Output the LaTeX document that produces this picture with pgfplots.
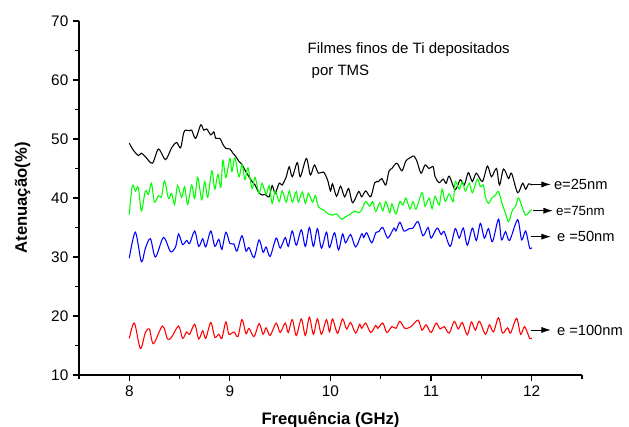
\documentclass[border=0pt]{standalone}
\usepackage{fontspec}
\setmainfont{Liberation Sans}
\usepackage{pgfplots}
\pgfplotsset{compat=1.18}
\usetikzlibrary{arrows.meta}

\begin{document}
\begin{tikzpicture}

\begin{axis}[
    at={(0,0)}, anchor=south west,
    scale only axis, width=377.25pt, height=265.5pt,
    xmin=7.5, xmax=12.5, ymin=10, ymax=70,
    axis x line=bottom, axis y line=left,
    axis line style={-, line width=0.9pt},
    xtick={8,9,10,11,12}, ytick={10,20,...,70},
    minor xtick={7.5,8.5,9.5,10.5,11.5,12.5},
    minor ytick={15,25,35,45,55,65},
    tick align=outside,
    major tick length=4.5pt, minor tick length=2.8pt,
    every tick/.style={black, line width=0.9pt},
    tick label style={font=\fontsize{11.5}{13}\selectfont},
    /pgf/number format/assume math mode=true,
    xlabel={Frequência (GHz)}, ylabel={Atenuação(\%)},
    label style={font=\fontsize{12.5}{14}\selectfont\bfseries},
    xlabel style={at={(axis description cs:0.5,-0.128)}, anchor=center},
    ylabel style={at={(axis description cs:-0.112,0.5)}, anchor=center},
    clip=false,
]

% e = 25 nm
\addplot[black, line width=0.8pt, smooth, tension=0.5] coordinates {
(8.00,49.3)(8.04,48.1)(8.09,47.2)(8.12,47.6)(8.16,47.0)(8.23,45.9)(8.29,48.3)(8.36,46.5)
(8.42,48.5)(8.47,49.4)(8.51,48.5)(8.54,51.0)(8.56,51.5)(8.60,51.4)(8.62,51.5)(8.66,50.1)
(8.71,52.4)(8.74,51.5)(8.77,51.7)(8.81,50.7)(8.84,51.2)(8.86,50.1)(8.90,50.1)(8.93,49.1)
(8.96,48.4)(9.00,48.3)(9.03,47.6)(9.06,47.0)(9.09,46.2)(9.12,45.7)(9.15,44.7)(9.19,43.6)
(9.22,42.8)(9.25,42.2)(9.29,40.8)(9.32,40.5)(9.35,40.6)(9.39,40.2)(9.42,42.1)(9.45,40.8)
(9.49,42.5)(9.52,42.2)(9.56,43.6)(9.59,45.3)(9.62,43.6)(9.67,46.0)(9.70,43.6)(9.76,46.7)
(9.80,43.9)(9.84,45.6)(9.88,44.2)(9.93,44.4)(9.97,43.1)(10.00,41.2)(10.02,42.4)(10.06,40.3)
(10.10,42.0)(10.14,40.2)(10.18,41.6)(10.22,39.2)(10.28,41.1)(10.31,40.2)(10.35,41.2)(10.40,40.2)
(10.44,42.6)(10.48,42.8)(10.51,43.3)(10.55,42.2)(10.58,44.5)(10.61,45.0)(10.66,45.9)(10.71,44.6)
(10.75,46.3)(10.80,46.9)(10.83,47.1)(10.86,46.2)(10.90,44.2)(10.94,45.6)(10.98,45.0)(11.02,45.3)
(11.04,43.6)(11.08,42.6)(11.12,43.2)(11.15,42.5)(11.18,43.7)(11.24,41.4)(11.29,43.1)(11.33,42.2)
(11.37,44.3)(11.41,42.8)(11.45,44.2)(11.51,42.8)(11.56,45.4)(11.60,43.6)(11.65,45.0)(11.68,42.2)
(11.72,44.9)(11.77,43.3)(11.80,44.2)(11.86,40.9)(11.91,42.5)(11.94,41.5)(11.97,42.4)(12.00,42.2)
};

% e = 75 nm
\addplot[green, line width=0.8pt, smooth, tension=0.5] coordinates {
(8.00,37.2)(8.03,42.1)(8.06,41.2)(8.09,41.8)(8.12,37.8)(8.16,41.2)(8.19,40.6)(8.22,42.5)
(8.25,39.3)(8.29,40.4)(8.32,40.2)(8.35,42.9)(8.39,39.9)(8.42,40.8)(8.45,38.9)(8.48,42.1)
(8.52,40.1)(8.55,41.9)(8.58,38.9)(8.62,42.2)(8.65,39.9)(8.68,43.5)(8.72,39.7)(8.75,42.8)
(8.78,40.1)(8.82,44.6)(8.85,41.5)(8.88,44.0)(8.91,41.8)(8.93,46.4)(8.96,43.5)(9.00,46.7)
(9.02,44.5)(9.05,46.8)(9.09,43.6)(9.12,45.7)(9.15,43.1)(9.18,45.1)(9.22,41.6)(9.25,43.5)
(9.29,40.8)(9.32,42.5)(9.36,40.6)(9.39,42.1)(9.42,39.1)(9.45,41.2)(9.49,39.4)(9.52,41.2)
(9.56,39.3)(9.59,41.2)(9.62,39.3)(9.66,41.1)(9.68,39.3)(9.72,41.0)(9.75,39.1)(9.78,40.8)
(9.82,39.3)(9.85,40.4)(9.88,38.5)(9.93,38.0)(9.97,37.4)(10.02,37.1)(10.06,37.3)(10.11,36.4)
(10.15,36.8)(10.20,37.3)(10.24,37.8)(10.28,37.5)(10.31,38.0)(10.35,39.4)(10.39,38.6)(10.42,39.4)
(10.45,37.7)(10.49,39.2)(10.52,37.8)(10.55,39.4)(10.59,37.5)(10.61,39.0)(10.65,37.3)(10.69,39.4)
(10.72,38.8)(10.75,40.0)(10.79,38.1)(10.82,39.4)(10.85,38.1)(10.91,40.9)(10.94,38.6)(10.98,40.0)
(11.01,38.2)(11.04,40.3)(11.08,38.8)(11.11,41.5)(11.14,39.4)(11.18,40.7)(11.22,39.4)(11.24,42.8)
(11.28,41.5)(11.31,42.8)(11.34,41.2)(11.38,42.5)(11.41,40.9)(11.46,43.2)(11.49,41.9)(11.52,42.2)
(11.54,40.2)(11.57,39.1)(11.61,40.1)(11.64,40.5)(11.67,41.1)(11.71,38.8)(11.74,37.4)(11.77,36.0)
(11.81,38.0)(11.84,38.6)(11.87,40.0)(11.91,38.2)(11.94,37.1)(11.97,37.5)(12.00,38.1)
};

% e = 50 nm
\addplot[blue, line width=0.8pt, smooth, tension=0.5] coordinates {
(8.00,29.8)(8.06,34.2)(8.12,29.2)(8.16,31.5)(8.21,33.1)(8.26,30.0)(8.34,33.3)(8.41,30.9)
(8.46,31.7)(8.49,33.9)(8.53,32.1)(8.57,32.8)(8.60,32.3)(8.65,34.4)(8.69,31.8)(8.73,33.1)
(8.76,31.7)(8.81,34.4)(8.85,31.8)(8.89,33.0)(8.92,31.3)(8.96,34.2)(9.00,32.3)(9.04,32.2)
(9.07,31.0)(9.12,33.6)(9.16,31.0)(9.19,31.6)(9.24,29.9)(9.29,32.9)(9.33,30.8)(9.36,31.7)
(9.40,30.1)(9.46,33.2)(9.50,31.5)(9.55,33.3)(9.58,31.8)(9.62,34.4)(9.66,32.0)(9.71,34.6)
(9.75,31.8)(9.79,35.0)(9.83,31.8)(9.87,34.8)(9.91,31.5)(9.96,34.2)(9.99,31.6)(10.04,34.1)
(10.08,31.2)(10.12,33.9)(10.15,32.4)(10.20,33.8)(10.25,31.7)(10.31,33.9)(10.33,33.3)(10.36,34.1)
(10.41,32.4)(10.45,34.1)(10.48,34.3)(10.52,35.0)(10.57,33.2)(10.63,34.9)(10.65,34.4)(10.69,35.9)
(10.73,34.4)(10.78,34.8)(10.82,34.9)(10.87,36.0)(10.92,33.6)(10.97,35.0)(11.00,33.2)(11.06,34.9)
(11.10,33.8)(11.13,34.3)(11.19,31.8)(11.24,34.8)(11.28,33.2)(11.32,34.9)(11.36,32.0)(11.41,34.9)
(11.45,32.8)(11.49,35.7)(11.53,33.2)(11.57,34.8)(11.61,32.6)(11.67,36.4)(11.70,32.9)(11.74,34.3)
(11.78,32.8)(11.86,36.3)(11.90,32.9)(11.94,34.4)(11.98,31.5)(12.00,31.6)
};

% e = 100 nm
\addplot[red, line width=0.8pt, smooth, tension=0.5] coordinates {
(8.00,16.2)(8.05,18.8)(8.11,14.5)(8.16,17.2)(8.20,17.8)(8.24,15.3)(8.33,18.3)(8.38,16.1)
(8.42,16.4)(8.49,18.3)(8.53,16.2)(8.57,17.3)(8.60,16.9)(8.65,18.6)(8.69,16.1)(8.73,17.5)
(8.76,16.2)(8.81,18.9)(8.85,16.4)(8.89,16.9)(8.92,16.2)(8.96,19.0)(8.99,16.9)(9.04,17.3)
(9.08,16.5)(9.12,19.4)(9.16,17.0)(9.19,17.9)(9.24,16.5)(9.29,18.7)(9.33,16.9)(9.36,18.0)
(9.40,16.7)(9.46,18.8)(9.50,17.2)(9.55,18.8)(9.58,17.2)(9.62,19.4)(9.66,16.7)(9.71,19.5)
(9.75,16.7)(9.79,19.8)(9.83,16.9)(9.87,19.5)(9.91,16.9)(9.96,19.4)(9.99,17.3)(10.02,19.5)
(10.07,17.1)(10.12,19.5)(10.16,17.8)(10.20,18.9)(10.25,17.1)(10.29,18.6)(10.31,17.9)(10.35,18.8)
(10.40,17.2)(10.45,18.4)(10.47,17.9)(10.52,18.8)(10.56,17.2)(10.61,18.2)(10.65,17.9)(10.69,19.1)
(10.74,17.9)(10.80,18.2)(10.87,19.3)(10.91,17.6)(10.95,18.5)(11.00,17.2)(11.05,18.8)(11.09,17.8)
(11.13,18.2)(11.18,17.1)(11.23,19.1)(11.27,17.8)(11.31,18.9)(11.36,16.8)(11.40,19.0)(11.44,17.6)
(11.48,19.1)(11.54,16.9)(11.58,18.5)(11.62,17.3)(11.67,19.7)(11.71,17.1)(11.76,18.0)(11.79,17.1)
(11.85,19.6)(11.89,16.9)(11.93,18.2)(11.98,16.2)(12.00,16.3)
};

% title text
\node[anchor=base west, inner sep=0, font=\fontsize{11.25}{13}\selectfont]
    at (axis cs:9.771,64.41) {Filmes finos de Ti depositados};
\node[anchor=base west, inner sep=0, font=\fontsize{11.25}{13}\selectfont]
    at (axis cs:9.811,60.68) {por TMS};

% series labels with arrows
\tikzset{lblarr/.style={-{Latex[length=7pt,width=4.5pt]}, line width=0.6pt}}
\draw[lblarr] (axis cs:11.99,42.3) -- (axis cs:12.19,42.3);
\node[anchor=west, inner sep=0, font=\fontsize{11}{13}\selectfont] at (axis cs:12.22,42.3) {e=25nm};
\draw[lblarr] (axis cs:12.01,37.85) -- (axis cs:12.21,37.85);
\node[anchor=west, inner sep=0, font=\fontsize{10}{12}\selectfont] at (axis cs:12.24,37.85) {e=75nm};
\draw[lblarr] (axis cs:11.99,33.45) -- (axis cs:12.19,33.45);
\node[anchor=west, inner sep=0, font=\fontsize{11}{13}\selectfont] at (axis cs:12.25,33.45) {e =50nm};
\draw[lblarr] (axis cs:11.99,17.63) -- (axis cs:12.19,17.63);
\node[anchor=west, inner sep=0, font=\fontsize{11}{13}\selectfont] at (axis cs:12.25,17.63) {e =100nm};

\end{axis}

\pgfresetboundingbox
\path[use as bounding box] (-59.25pt,-39pt) rectangle (412.5pt,281.25pt);
\end{tikzpicture}
\end{document}
